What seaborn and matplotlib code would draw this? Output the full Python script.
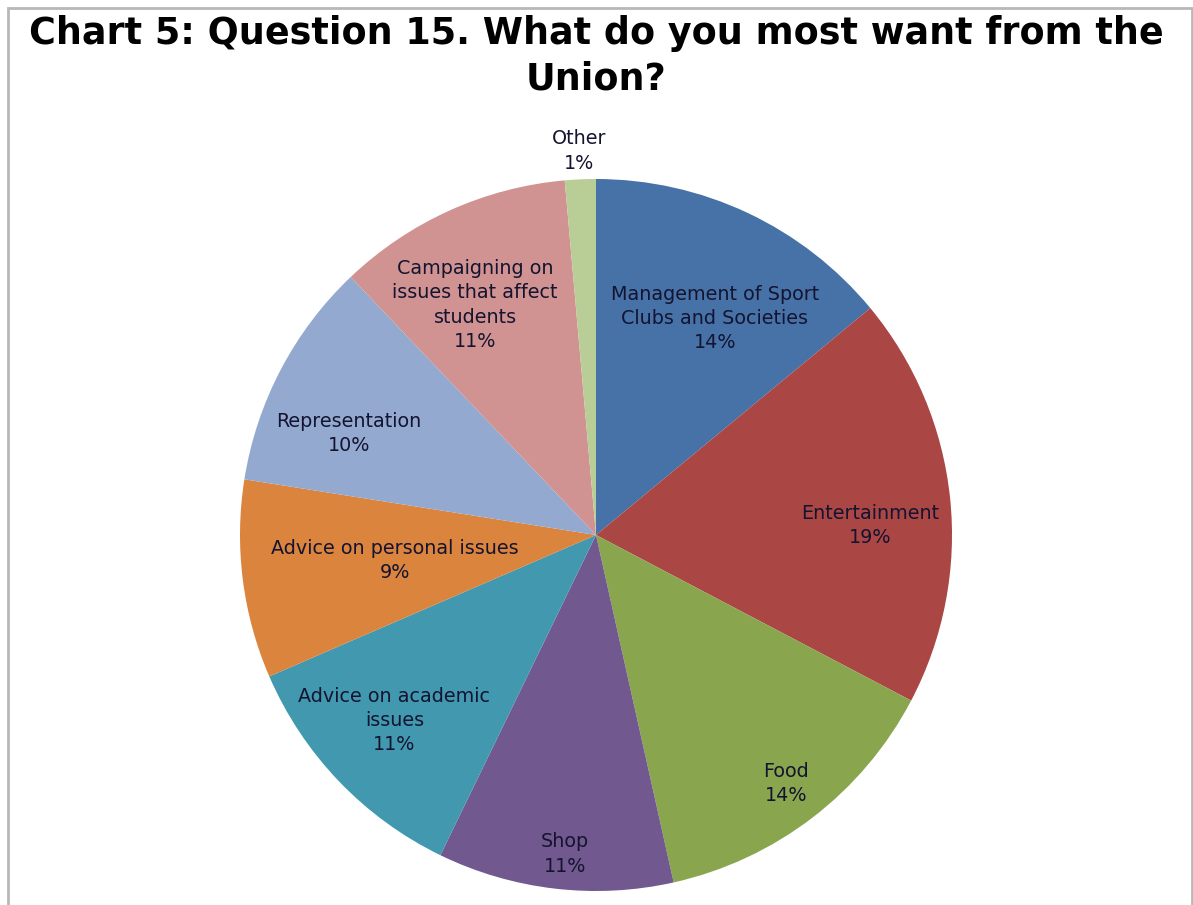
import matplotlib
matplotlib.use("Agg")
import matplotlib.pyplot as plt
import seaborn as sns
import numpy as np
from matplotlib.patches import Rectangle

categories = [
    "Management of Sport\nClubs and Societies",
    "Entertainment",
    "Food",
    "Shop",
    "Advice on academic\nissues",
    "Advice on personal issues",
    "Representation",
    "Campaigning on\nissues that affect\nstudents",
    "Other",
]
values = [14.0, 18.7, 13.8, 10.7, 11.3, 9.0, 10.4, 10.7, 1.4]
colors = ["#4672A8", "#AA4644", "#89A54E", "#71588F", "#4198AF",
          "#DB843D", "#93A9D0", "#D09392", "#B9CD97"]

# label placement (fraction of radius, angle offset in degrees)
label_r = [0.694, 0.77, 0.88, 0.90, 0.77, 0.57, 0.75, 0.73, 1.08]
label_dang = [-3.5, -3.9, 0.0, 1.1, -1.1, 0.0, 5.3, 3.4, 0.0]

sns.set_theme(style="white")
plt.rcParams['font.family'] = ['DejaVu Sans']

W, H = 1193, 905
fig = plt.figure(figsize=(W / 100, H / 100), dpi=100)
fig.patch.set_facecolor("white")

# chart border
fig.add_artist(Rectangle((8 / W, -0.05), (1192 - 8) / W, 1 - 8 / H + 0.05,
                         transform=fig.transFigure, fill=False,
                         edgecolor="#B8B8B8", linewidth=2))

cx, cy, R = 596, 535, 356
ax = fig.add_axes([(cx - R) / W, (H - cy - R) / H, 2 * R / W, 2 * R / H])
palette = sns.color_palette(colors)
wedges, _ = ax.pie(values, colors=palette, startangle=90, counterclock=False,
                   radius=1, wedgeprops=dict(linewidth=0))
ax.set_xlim(-1, 1)
ax.set_ylim(-1, 1)
ax.set_aspect("equal")
ax.axis("off")

for w, cat, v, r, da in zip(wedges, categories, values, label_r, label_dang):
    mid = np.deg2rad((w.theta1 + w.theta2) / 2 + da)
    ax.text(r * np.cos(mid), r * np.sin(mid), f"{cat}\n{v:.0f}%",
            ha="center", va="center", fontsize=13.8, color="#141430",
            linespacing=1.35, clip_on=False)

fig.text(596 / W, 1 - 56.5 / H,
         "Chart 5: Question 15. What do you most want from the\nUnion?",
         ha="center", va="center", fontsize=26.3, fontweight="bold",
         color="black", linespacing=1.28)

fig.savefig("out.png", dpi=100)
